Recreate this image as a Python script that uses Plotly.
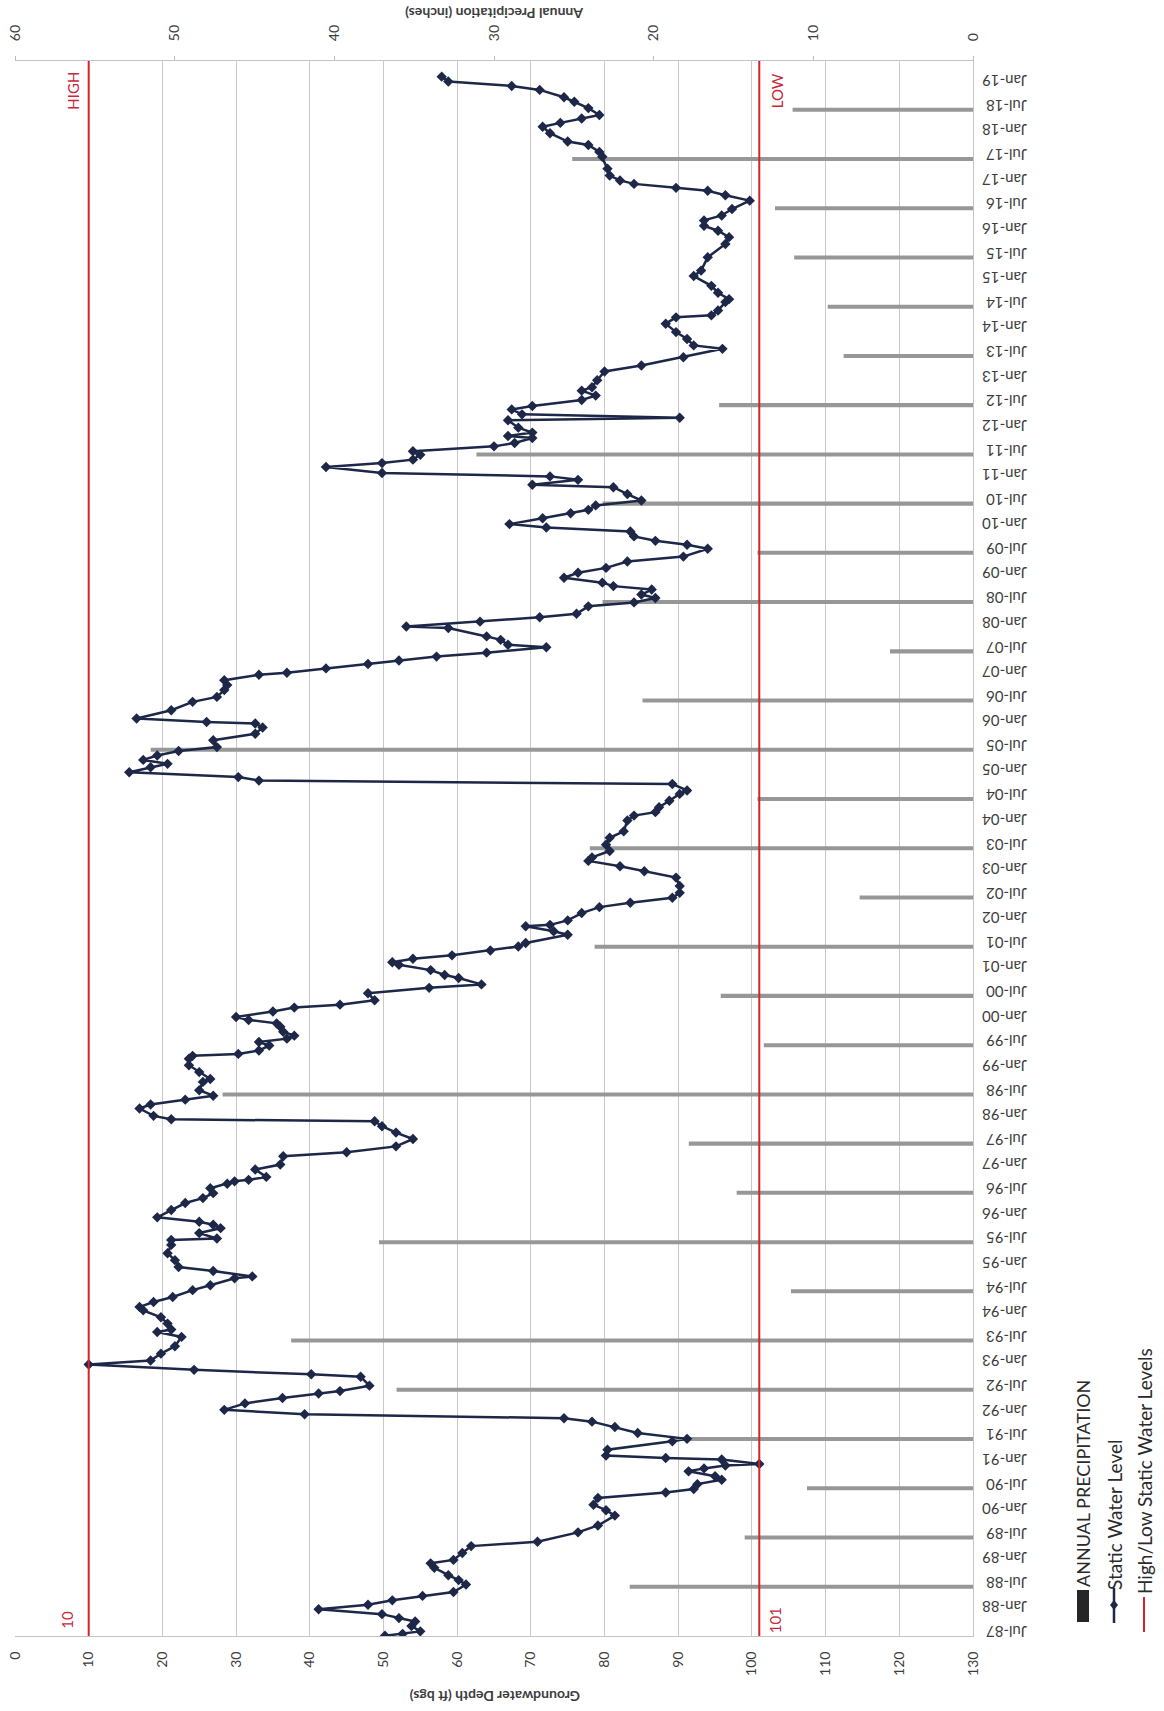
import plotly.graph_objects as go
from datetime import datetime, timedelta

# Static water level readings: decimal year of reading, depth to water (ft bgs)
level_year = [
    1987.50, 1987.54, 1987.59, 1987.70, 1987.79, 1987.86, 1987.94, 1988.04, 1988.13, 1988.22,
    1988.31, 1988.39, 1988.54, 1988.63, 1988.73, 1988.88, 1988.97, 1989.04, 1989.18, 1989.32,
    1989.41, 1989.60, 1989.74, 1989.94, 1990.05, 1990.16, 1990.30, 1990.41, 1990.48, 1990.58,
    1990.67, 1990.74, 1990.84, 1990.90, 1990.96, 1990.99, 1991.08, 1991.11, 1991.16, 1991.28,
    1991.45, 1991.50, 1991.62, 1991.74, 1991.85, 1991.92, 1992.00, 1992.09, 1992.22, 1992.33,
    1992.42, 1992.47, 1992.58, 1992.76, 1992.81, 1992.90, 1993.01, 1993.09, 1993.23, 1993.38,
    1993.57, 1993.67, 1993.72, 1993.84, 1993.97, 1994.11, 1994.18, 1994.28, 1994.38, 1994.52,
    1994.62, 1994.76, 1994.80, 1994.91, 1994.99, 1995.13, 1995.27, 1995.44, 1995.54, 1995.57,
    1995.68, 1995.78, 1995.85, 1995.91, 1996.00, 1996.15, 1996.29, 1996.39, 1996.49, 1996.59,
    1996.68, 1996.73, 1996.76, 1996.82, 1996.97, 1997.07, 1997.24, 1997.32, 1997.44, 1997.59,
    1997.72, 1997.85, 1997.95, 1997.99, 1998.06, 1998.21, 1998.29, 1998.39, 1998.47, 1998.58,
    1998.75, 1998.81, 1998.95, 1999.09, 1999.22, 1999.28, 1999.32, 1999.39, 1999.49, 1999.56,
    1999.63, 1999.69, 1999.77, 1999.87, 1999.94, 2000.01, 2000.07, 2000.18, 2000.26, 2000.32,
    2000.41, 2000.55, 2000.66, 2000.73, 2000.86, 2000.92, 2001.02, 2001.13, 2001.18, 2001.25,
    2001.32, 2001.42, 2001.50, 2001.57, 2001.74, 2001.81, 2001.91, 2001.94, 2002.03, 2002.18,
    2002.30, 2002.39, 2002.49, 2002.59, 2002.73, 2002.90, 2003.03, 2003.13, 2003.24, 2003.31,
    2003.44, 2003.57, 2003.71, 2003.84, 2004.06, 2004.16, 2004.23, 2004.33, 2004.46, 2004.60,
    2004.67, 2004.80, 2004.87, 2004.94, 2005.04, 2005.14, 2005.21, 2005.29, 2005.38, 2005.47,
    2005.55, 2005.69, 2005.82, 2005.95, 2006.03, 2006.06, 2006.13, 2006.30, 2006.47, 2006.57,
    2006.71, 2006.81, 2006.91, 2007.02, 2007.06, 2007.15, 2007.24, 2007.31, 2007.39, 2007.47,
    2007.58, 2007.63, 2007.73, 2007.80, 2007.97, 2008.00, 2008.10, 2008.19, 2008.26, 2008.41,
    2008.49, 2008.58, 2008.65, 2008.75, 2008.82, 2008.89, 2008.99, 2009.09, 2009.19, 2009.32,
    2009.42, 2009.58, 2009.66, 2009.74, 2009.83, 2009.93, 2010.01, 2010.08, 2010.20, 2010.30,
    2010.37, 2010.46, 2010.56, 2010.69, 2010.83, 2010.88, 2010.98, 2011.05, 2011.12, 2011.24,
    2011.32, 2011.39, 2011.49, 2011.56, 2011.66, 2011.73, 2011.83, 2011.87, 2011.94, 2012.04,
    2012.19, 2012.24, 2012.31, 2012.41, 2012.48, 2012.60, 2012.69, 2012.79, 2012.86, 2013.00,
    2013.18, 2013.30, 2013.47, 2013.64, 2013.71, 2013.84, 2013.98, 2014.15, 2014.28, 2014.32,
    2014.42, 2014.59, 2014.65, 2014.78, 2014.92, 2015.12, 2015.23, 2015.50, 2015.77, 2015.91,
    2016.04, 2016.14, 2016.25, 2016.35, 2016.48, 2016.65, 2016.76, 2016.85, 2016.91, 2016.99,
    2017.06, 2017.16, 2017.30, 2017.54, 2017.64, 2017.78, 2017.85, 2018.02, 2018.15, 2018.23,
    2018.32, 2018.39, 2018.53, 2018.66, 2018.75, 2018.90, 2018.98, 2019.07, 2019.17,
]
level_depth = [
    50.2, 52.6, 55.0, 53.8, 54.3, 52.1, 49.8, 41.2, 47.9, 51.2,
    55.3, 59.5, 61.2, 60.2, 58.8, 56.9, 56.4, 59.5, 60.7, 61.9,
    70.9, 76.4, 79.1, 81.4, 80.2, 78.5, 79.1, 88.3, 92.1, 92.6,
    95.9, 95.0, 91.4, 93.5, 96.4, 101.0, 95.9, 88.3, 80.2, 80.4,
    89.2, 91.2, 84.5, 81.4, 78.3, 74.5, 39.3, 28.4, 31.2, 36.3,
    41.2, 44.1, 48.1, 46.9, 40.2, 24.3, 10.0, 18.4, 19.8, 21.7,
    22.6, 19.3, 21.2, 20.7, 19.8, 17.4, 16.9, 18.8, 21.4, 24.1,
    26.5, 29.8, 32.2, 26.9, 22.2, 21.7, 20.7, 21.2, 21.2, 27.4,
    25.0, 27.9, 26.9, 25.0, 19.3, 21.2, 23.1, 25.5, 26.9, 26.5,
    28.8, 29.8, 31.7, 34.1, 32.6, 36.0, 36.4, 45.0, 51.7, 54.0,
    51.7, 49.8, 48.8, 21.2, 18.8, 16.9, 18.4, 23.1, 26.9, 25.0,
    25.5, 26.5, 25.0, 23.6, 23.6, 24.1, 30.3, 33.1, 34.5, 33.1,
    36.9, 37.9, 36.4, 36.0, 35.5, 31.7, 30.0, 35.0, 37.9, 44.1,
    48.8, 47.9, 56.2, 63.3, 60.2, 58.3, 56.4, 52.1, 51.2, 54.0,
    59.3, 64.5, 68.3, 69.3, 75.0, 73.1, 69.3, 72.6, 75.0, 76.9,
    79.3, 83.5, 89.2, 90.2, 90.2, 89.7, 85.4, 82.1, 77.8, 78.3,
    80.7, 80.2, 80.7, 82.6, 83.1, 84.0, 86.9, 87.4, 88.8, 90.2,
    91.2, 89.2, 33.1, 30.3, 15.5, 18.4, 20.7, 17.4, 19.3, 22.2,
    27.4, 26.9, 32.6, 33.6, 32.6, 26.0, 16.5, 21.2, 24.1, 27.4,
    28.4, 28.8, 28.4, 33.1, 36.9, 42.2, 47.9, 52.1, 57.2, 64.0,
    72.1, 66.9, 65.9, 64.0, 58.8, 53.1, 63.1, 71.2, 76.2, 77.8,
    84.0, 86.9, 85.0, 86.4, 81.2, 79.7, 74.5, 76.4, 80.2, 83.1,
    90.7, 94.0, 91.2, 86.9, 84.0, 83.5, 72.1, 67.1, 71.6, 75.4,
    77.8, 78.8, 85.0, 83.1, 81.2, 70.2, 76.4, 72.6, 49.8, 42.2,
    49.8, 54.0, 55.0, 54.0, 65.0, 67.8, 70.2, 66.9, 70.2, 68.3,
    66.9, 90.2, 68.8, 67.4, 70.2, 76.9, 78.8, 76.9, 78.3, 79.0,
    80.0, 85.0, 90.7, 96.0, 92.1, 91.2, 89.7, 88.3, 89.7, 94.5,
    95.4, 96.4, 96.9, 95.4, 94.5, 92.1, 93.1, 94.0, 96.4, 96.9,
    95.4, 93.5, 93.5, 95.9, 97.3, 99.7, 96.4, 94.0, 89.7, 84.0,
    82.1, 80.7, 80.4, 79.7, 79.3, 77.8, 75.0, 72.6, 71.6, 74.0,
    76.9, 79.3, 77.8, 75.9, 74.5, 71.2, 67.4, 58.8, 57.9,
]

# Annual precipitation (inches), plotted at July of each year
precip_year = list(range(1988, 2019))
precip_inches = [
    21.5, 14.3, 10.4, 18.6, 36.1, 42.7, 11.4, 37.2, 14.8, 17.8,
    47.0, 13.1, 15.8, 23.7, 7.1, 24.0, 13.5, 51.5, 20.7, 5.2,
    23.2, 13.5, 23.2, 31.1, 15.9, 8.1, 9.1, 11.2, 12.4, 25.1,
    11.3,
]

# High / low static water levels (ft bgs)
limit_label = ["HIGH", "LOW"]
limit_depth = [10, 101]

date_start = "1987-07-01"
date_end = "2019-06-28"

NAVY = "#1d2748"
RED = "#d3232f"
LABEL_RED = "#c8283a"
GRID = "#c9c9c9"
TEXT = "#3d3d3d"

W, H = 1164, 1711
L, R, T, B = 15, 191, 61, 75


def to_date(y):
    yr = int(y)
    start = datetime(yr, 1, 1)
    span = (datetime(yr + 1, 1, 1) - start).days
    return start + timedelta(days=(y - yr) * span)


def fx(px):
    return (px - L) / (W - L - R)


def fy(py):
    return (H - B - py) / (H - T - B)


fig = go.Figure()

fig.add_trace(go.Bar(
    x=precip_inches,
    y=[datetime(y, 7, 1) for y in precip_year],
    orientation="h",
    width=30 * 86400000,
    marker=dict(color="#979797", line_width=0),
    xaxis="x", yaxis="y",
    name="ANNUAL PRECIPITATION",
))

fig.add_trace(go.Scatter(
    x=level_depth,
    y=[to_date(v) for v in level_year],
    mode="lines+markers",
    line=dict(color=NAVY, width=2.5),
    marker=dict(symbol="diamond", size=8, color=NAVY),
    xaxis="x2", yaxis="y",
    name="Static Water Level",
))

shapes = []
annotations = []
for name, v in zip(limit_label, limit_depth):
    shapes.append(dict(type="line", xref="x2", yref="paper", x0=v, x1=v, y0=0, y1=1,
                       line=dict(color=RED, width=2), layer="above"))
    high = name == "HIGH"
    annotations.append(dict(text=name, xref="x2", yref="paper", x=v, y=fy(91),
                            xshift=-16 if high else 18, xanchor="center", yanchor="middle",
                            textangle=-90, showarrow=False,
                            font=dict(size=15, color=LABEL_RED)))
    annotations.append(dict(text=str(v), xref="x2", yref="paper", x=v, y=fy(1620),
                            xshift=-22 if high else 16, xanchor="center", yanchor="middle",
                            textangle=-90, showarrow=False,
                            font=dict(size=15, color=LABEL_RED)))

# axis titles, upside down like the scanned page
annotations.append(dict(text="<b>Groundwater Depth (ft bgs)</b>", xref="paper", yref="paper",
                        x=fx(495), y=fy(1697), xanchor="center", yanchor="middle",
                        textangle=180, showarrow=False, font=dict(size=14, color=TEXT)))
annotations.append(dict(text="<b>Annual Precipitation (inches)</b>", xref="paper", yref="paper",
                        x=fx(495), y=fy(13), xanchor="center", yanchor="middle",
                        textangle=180, showarrow=False, font=dict(size=14, color=TEXT)))

# legend, rotated (text centre x, text centre y, font size)
legend_items = [
    ("ANNUAL PRECIPITATION", 1083, 1484, 18),
    ("Static Water Level", 1114, 1515, 19),
    ("High/Low Static Water Levels", 1144, 1471, 19),
]
for text, cx, cy, size in legend_items:
    annotations.append(dict(text=text, xref="paper", yref="paper", x=fx(cx), y=fy(cy),
                            yanchor="middle", xanchor="center", textangle=-90, showarrow=False,
                            font=dict(size=size, color="#2b2b2b")))
shapes.append(dict(type="rect", xref="paper", yref="paper", x0=fx(1077), x1=fx(1089),
                   y0=fy(1622), y1=fy(1590), fillcolor="#262626", line_width=0))
shapes.append(dict(type="line", xref="paper", yref="paper", x0=fx(1114), x1=fx(1114),
                   y0=fy(1623), y1=fy(1588), line=dict(color=NAVY, width=2.5)))
shapes.append(dict(type="path", xref="paper", yref="paper",
                   path="M {a},{b} L {c},{d} L {a},{e} L {f},{d} Z".format(
                       a=fx(1114), b=fy(1600), c=fx(1118), d=fy(1605), e=fy(1610), f=fx(1110)),
                   fillcolor=NAVY, line_width=0))
shapes.append(dict(type="line", xref="paper", yref="paper", x0=fx(1144), x1=fx(1144),
                   y0=fy(1632), y1=fy(1597), line=dict(color=RED, width=2)))

fig.update_layout(
    width=W, height=H,
    margin=dict(l=L, r=R, t=T, b=B, autoexpand=False),
    paper_bgcolor="white", plot_bgcolor="white",
    showlegend=False,
    font=dict(family="Lato, 'Open Sans', sans-serif", color=TEXT),
    xaxis=dict(range=[60, 0], side="top", dtick=10, tickangle=-90, automargin=False,
               showgrid=False, zeroline=False, ticks="outside", ticklen=4, tickcolor="#bdbdbd",
               showline=True, linecolor="#c4c4c4", ticklabelstandoff=12,
               tickfont=dict(size=14)),
    xaxis2=dict(range=[0, 130], overlaying="x", side="bottom", anchor="y", dtick=10,
                tickangle=-90, automargin=False, showgrid=True, gridcolor=GRID, gridwidth=1,
                zeroline=False, showline=True, linecolor="#c4c4c4", ticklabelstandoff=9,
                tickfont=dict(size=14)),
    yaxis=dict(type="date", range=[date_start, date_end], side="right", automargin=False,
               dtick="M6", tick0=date_start, tickformat="%b-%y", tickangle=180,
               showgrid=False, zeroline=False, showline=True, linecolor="#c4c4c4",
               ticklabelstandoff=50, tickfont=dict(size=15)),
    shapes=shapes,
    annotations=annotations,
)

# the page's default body margin would push the figure 8px off its spot
fig.write_html("out.html", config={"displayModeBar": False},
               post_script="document.body.style.margin = '0';")
